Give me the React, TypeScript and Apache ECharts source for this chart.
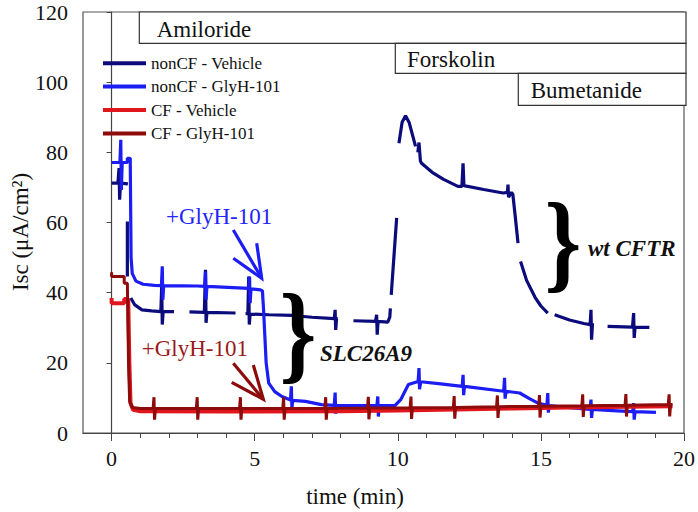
import React, { useEffect, useRef } from "react";
import * as echarts from "echarts";

const FONT = "'Liberation Serif', 'Times New Roman', serif";

// ---- data (time in min, Isc in µA/cm²), null = gap in the trace ----
const seriesNames = ["nonCF - Vehicle", "nonCF - GlyH-101", "CF - Vehicle", "CF - GlyH-101"];
const seriesColors = ["#0b0b7c", "#1c1cf5", "#e0161c", "#8e0b0b"];

const nonCFVehicle: (number[] | null)[] = [
  [0, 71.2], [0.22, 71.2], [0.26, 75.5], [0.28, 66.5], [0.31, 71.2], [0.57, 71.0], null,
  [0.55, 60.3], [0.55, 44.6], null,
  [0.67, 38.5], [0.8, 36.6], [1.06, 35.1], [1.4, 34.8], [1.72, 34.6], [1.75, 41.8], [1.77, 30.9], [1.8, 34.6], [2.18, 34.6], null,
  [2.72, 34.5], [3.24, 34.4], [3.28, 46.5], [3.3, 31.4], [3.33, 34.4], [4.33, 34.2], null,
  [4.68, 34.0], [4.76, 34.0], [4.79, 44.6], [4.81, 30.9], [4.84, 33.9], [5.5, 33.7], [6.3, 33.5], [7.0, 33.0], [7.78, 32.6], [7.81, 35.1], [7.83, 29.4], [7.86, 32.6], [7.9, 32.6], null,
  [8.45, 32.0], [9.22, 31.8], [9.26, 33.7], [9.28, 28.0], [9.31, 31.8], [9.65, 31.6], [9.72, 33.0], [9.74, 35.5], null,
  [9.77, 39.4], [9.96, 61.3], null,
  [10.04, 82.6], [10.15, 88.6], [10.27, 90.4], [10.4, 88.4], [10.62, 81.7], null,
  [10.7, 80.0], [10.74, 82.8], [10.79, 77.5], [10.83, 76.9], [11.2, 74.3], [11.6, 72.3], [12.1, 70.3], [12.24, 70.3], [12.28, 76.9], [12.31, 70.5], [13.0, 69.4], [13.68, 68.4], [13.83, 68.6], [13.85, 70.8], [13.87, 67.2], [13.97, 68.6], [14.02, 68.0], [14.1, 62.0], [14.2, 54.1], null,
  [14.29, 48.9], [14.5, 43.5], [14.8, 38.6], [15.0, 36.2], [15.24, 34.2], null,
  [15.48, 33.7], [16.0, 32.2], [16.5, 31.2], [16.72, 30.9], [16.75, 35.1], [16.77, 26.6], [16.8, 30.9], [16.85, 30.8], null,
  [17.33, 30.4], [18.2, 30.2], [18.24, 34.2], [18.26, 27.1], [18.29, 30.2], [18.79, 30.1],
];

const nonCFGlyH: (number[] | null)[] = [
  [0, 77.1], [0.29, 77.1], [0.32, 83.6], [0.34, 69.3], [0.37, 77.1], [0.55, 77.1], [0.55, 78.3], [0.65, 78.3],
  [0.68, 50.0], [0.72, 45.5], [0.85, 43.3], [1.1, 42.4], [1.5, 42.1], [1.74, 42.0], [1.77, 47.5], [1.79, 38.0], [1.82, 42.0],
  [3.0, 41.9], [3.25, 41.8], [3.28, 46.0], [3.3, 38.0], [3.33, 41.8], [4.79, 41.2], [4.82, 44.6], [4.84, 37.0], [4.87, 41.1],
  [5.2, 40.8], [5.27, 40.5], [5.31, 35.0], [5.4, 20.0], [5.49, 14.2], [5.7, 11.8], [5.95, 10.4], [6.25, 9.4], [6.28, 13.3], [6.3, 7.2], [6.33, 9.3],
  [6.77, 9.0], [7.33, 8.1], [7.78, 7.9], [7.81, 11.5], [7.83, 5.5], [7.86, 7.9], [8.5, 7.8], [9.27, 7.8], [9.3, 10.4], [9.32, 4.7], [9.35, 7.8],
  [9.9, 7.8], [10.1, 9.5], [10.37, 13.8], [10.71, 14.7], [10.74, 18.5], [10.76, 12.5], [10.8, 14.6], [11.5, 14.0],
  [12.25, 13.3], [12.28, 16.6], [12.3, 10.8], [12.33, 13.3], [13.7, 11.9], [13.73, 15.7], [13.75, 9.8], [13.78, 11.9],
  [14.26, 11.4], [14.6, 9.8], [14.9, 8.5], [15.21, 7.9], [15.24, 11.4], [15.26, 5.8], [15.29, 7.8], [16.0, 7.2],
  [16.72, 6.7], [16.75, 9.5], [16.77, 4.3], [16.8, 6.7], [17.5, 6.4], [18.21, 6.1], [18.24, 8.5], [18.26, 3.8], [18.29, 6.1], [19.02, 5.9],
];

const cfVehicle: (number[] | null)[] = [
  [0, 38.5], [0, 37.0], [0.44, 37.0], [0.44, 38.2], [0.58, 38.2], [0.62, 20.0], [0.66, 8.5], [0.75, 6.6], [1.0, 6.2],
  [4.0, 6.1], [8.0, 6.2], [10.0, 6.4], [12.0, 6.7], [14.0, 7.0], [16.0, 7.3], [18.0, 7.5], [19.6, 7.6],
];

const cfGlyH: (number[] | null)[] = [
  [0, 45.8], [0, 44.6], [0.44, 44.6], [0.44, 42.7], [0.55, 42.7], [0.59, 20.0], [0.63, 9.0], [0.72, 7.3], [1.0, 7.0],
  [1.45, 7.0], [1.48, 10.2], [1.5, 3.8], [1.53, 7.0],
  [2.96, 7.0], [2.99, 10.2], [3.01, 3.8], [3.04, 7.0],
  [4.47, 7.0], [4.5, 10.2], [4.52, 3.8], [4.55, 7.0],
  [5.98, 7.0], [6.01, 10.2], [6.03, 3.8], [6.06, 7.0],
  [7.45, 7.0], [7.48, 10.2], [7.5, 3.8], [7.53, 7.0],
  [8.94, 7.1], [8.97, 10.3], [8.99, 3.9], [9.02, 7.1],
  [10.43, 7.2], [10.46, 10.4], [10.48, 4.0], [10.51, 7.2],
  [11.94, 7.3], [11.97, 10.5], [11.99, 4.1], [12.02, 7.3],
  [13.45, 7.5], [13.48, 10.7], [13.5, 4.3], [13.53, 7.5],
  [14.92, 7.6], [14.95, 10.8], [14.97, 4.4], [15.0, 7.6],
  [16.43, 7.8], [16.46, 11.0], [16.48, 4.6], [16.51, 7.8],
  [17.94, 7.9], [17.97, 11.1], [17.99, 4.7], [18.02, 7.9],
  [19.45, 8.1], [19.48, 11.0], [19.5, 4.7], [19.53, 8.1], [19.6, 8.1],
];

const xMajorTicks = [0, 5, 10, 15, 20];
const xMinorTicks = [1, 2, 3, 4, 6, 7, 8, 9, 11, 12, 13, 14, 16, 17, 18, 19];
const yTicks = { min: 0, max: 120, interval: 20 };

const traces = [nonCFVehicle, nonCFGlyH, cfVehicle, cfGlyH];
const lineWidths = [3.2, 3.2, 4, 3];

function toData(arr: (number[] | null)[]) {
  return arr.map((p) => (p ? p : ["-", "-"]));
}

export default function App() {
  const ref = useRef<HTMLDivElement>(null);
  useEffect(() => {
    document.body.style.margin = "0";
    const chart = echarts.init(ref.current!, null, { renderer: "svg" });
    const txt = (text: string, x: number, y: number, opts: any = {}) => ({
      type: "text",
      x,
      y,
      z: 100,
      rotation: opts.rotation || 0,
      scaleX: opts.scaleX || 1,
      style: {
        text,
        fontSize: opts.fontSize || 23,
        fontFamily: FONT,
        fontWeight: opts.fontWeight || "normal",
        fontStyle: opts.fontStyle || "normal",
        fill: opts.fill || "#111",
        align: opts.align || "left",
        verticalAlign: "middle",
        textAlign: opts.align || "left",
        textVerticalAlign: "middle",
      },
    });
    const box = (x: number, y: number, w: number, h: number) => ({
      type: "rect",
      z: 90,
      shape: { x, y, width: w, height: h },
      style: { fill: "#fff", stroke: "#333", lineWidth: 1.2 },
    });
    const arrow = (pts: number[][], color: string) => ({
      type: "polyline",
      z: 95,
      shape: { points: pts },
      style: { stroke: color, lineWidth: 3.2, fill: "none" },
    });
    chart.setOption({
      animation: false,
      backgroundColor: "#fff",
      textStyle: { fontFamily: FONT },
      grid: {
        left: 83, right: 12, top: 12, bottom: 79,
        show: true, borderColor: "#555", borderWidth: 1.2, backgroundColor: "transparent",
      },
      legend: {
        orient: "vertical",
        left: 98,
        top: 46.5,
        itemWidth: 43,
        itemHeight: 4,
        itemGap: 0,
        icon: "rect",
        data: seriesNames,
        textStyle: { fontSize: 17, lineHeight: 23.4, fontFamily: FONT, color: "#111" },
      },
      xAxis: [
        {
          type: "value", min: -1, max: 20,
          axisLine: { show: true, onZero: false, lineStyle: { color: "#444", width: 1.2 } },
          axisTick: { show: true, customValues: xMajorTicks, length: 8, lineStyle: { color: "#444" } },
          axisLabel: { customValues: xMajorTicks, fontSize: 22, color: "#111", margin: 14, fontFamily: FONT },
          splitLine: { show: false },
        },
        {
          type: "value", min: -1, max: 20, position: "bottom",
          axisLine: { show: false, onZero: false },
          axisTick: { show: true, customValues: xMinorTicks, length: 5, lineStyle: { color: "#444" } },
          axisLabel: { show: false },
          splitLine: { show: false },
        },
      ],
      yAxis: {
        type: "value", min: yTicks.min, max: yTicks.max, interval: yTicks.interval,
        axisLine: { show: true, lineStyle: { color: "#444", width: 1.2 } },
        axisTick: { show: true, length: 5, lineStyle: { color: "#444" } },
        axisLabel: { fontSize: 22, color: "#111", margin: 15, fontFamily: FONT },
        splitLine: { show: false },
      },
      series: traces.map((t, i) => ({
        name: seriesNames[i],
        type: "line",
        xAxisIndex: 0,
        data: toData(t),
        showSymbol: false,
        symbol: "none",
        connectNulls: false,
        lineStyle: { color: seriesColors[i], width: lineWidths[i] },
        itemStyle: { color: seriesColors[i] },
        z: 2 + i,
      })),
      graphic: [
        box(139.3, 12, 686 - 139.3, 31.3),
        box(395.3, 43.3, 686 - 395.3, 30),
        box(518.3, 73.3, 686 - 518.3, 32),
        txt("Amiloride", 156.7, 29),
        txt("Forskolin", 407, 59),
        txt("Bumetanide", 530.7, 90.5),
        txt("+GlyH-101", 166, 216, { fill: "#2424ff" }),
        txt("+GlyH-101", 141.7, 348.5, { fill: "#9a1a1a" }),
        txt("SLC26A9", 320, 353, { fontWeight: "bold", fontStyle: "italic" }),
        txt("wt CFTR", 588, 248.5, { fontWeight: "bold", fontStyle: "italic" }),
        txt("}", 298, 333, { fontSize: 110, fontWeight: "bold", align: "center", scaleX: 0.85, fill: "#000" }),
        txt("}", 563, 242, { fontSize: 110, fontWeight: "bold", align: "center", scaleX: 0.85, fill: "#000" }),
        arrow([[233.3, 230], [261.7, 278.3]], "#1c1cf5"),
        arrow([[256.7, 243.3], [261.7, 278.3], [233.3, 258.3]], "#1c1cf5"),
        arrow([[233.3, 363.3], [263.3, 399.3]], "#8e0b0b"),
        arrow([[253.3, 365], [263.3, 399.3], [231.7, 382.3]], "#8e0b0b"),
        txt("time (min)", 355, 496, { align: "center" }),
        txt("Isc (μA/cm²)", 20.5, 232, { align: "center", rotation: Math.PI / 2 }),
      ],
    });
    return () => chart.dispose();
  }, []);
  return <div ref={ref} style={{ width: 698, height: 512 }} />;
}
